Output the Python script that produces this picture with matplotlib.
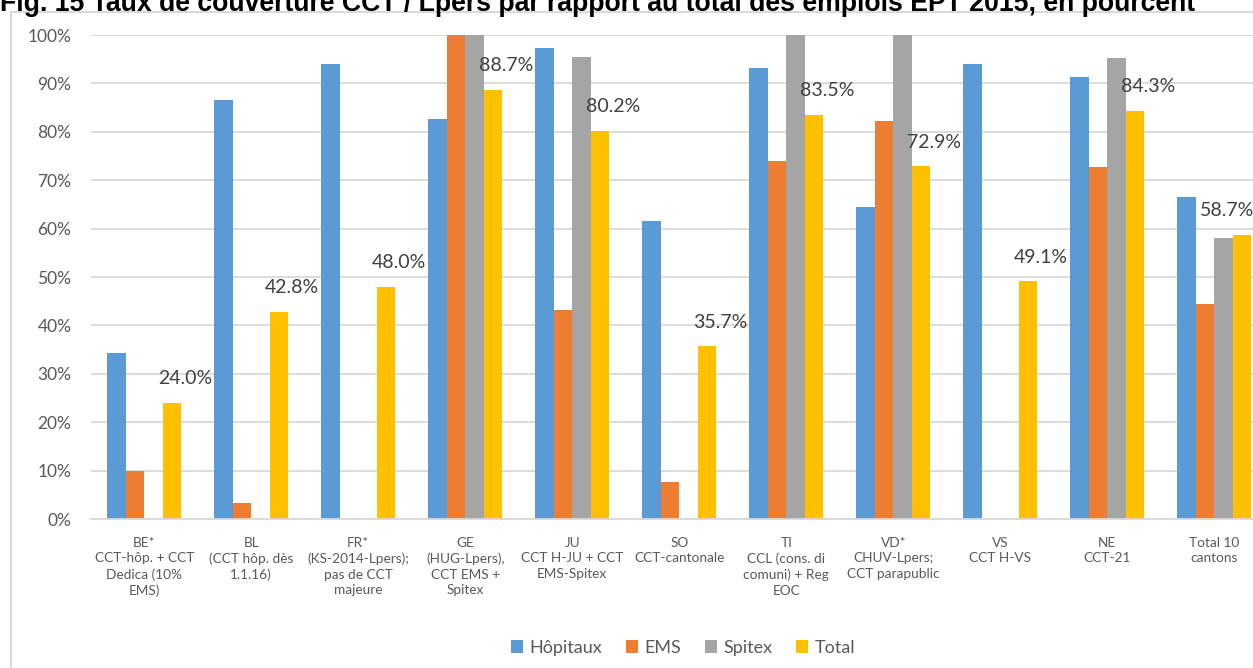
import numpy as np
import matplotlib.pyplot as plt
from matplotlib.patches import Rectangle

nan = np.nan

# Categories (canton + convention)
categories = [
    'BE*\nCCT-hôp. + CCT\nDedica (10%\nEMS)',
    'BL\n(CCT hôp. dès\n1.1.16)',
    'FR*\n(KS-2014-Lpers);\npas de CCT\nmajeure',
    'GE\n(HUG-Lpers),\nCCT EMS +\nSpitex',
    'JU\nCCT H-JU + CCT\nEMS-Spitex',
    'SO\nCCT-cantonale',
    'TI\nCCL (cons. di\ncomuni) + Reg\nEOC',
    'VD*\nCHUV-Lpers;\nCCT parapublic',
    'VS\nCCT H-VS',
    'NE\nCCT-21',
    'Total 10\ncantons',
]

# Values in percent
hopitaux = [34.4, 86.6, 94.0, 82.6, 97.3, 61.6, 93.2, 64.5, 94.0, 91.3, 66.5]
ems = [9.9, 3.4, nan, 100.0, 43.2, 7.6, 74.0, 82.2, nan, 72.8, 44.4]
spitex = [nan, nan, nan, 100.0, 95.4, nan, 100.0, 100.0, nan, 95.3, 58.1]
total = [24.0, 42.8, 48.0, 88.7, 80.2, 35.7, 83.5, 72.9, 49.1, 84.3, 58.7]

series_names = ['Hôpitaux', 'EMS', 'Spitex', 'Total']
colors = ['#5B9BD5', '#ED7D31', '#A5A5A5', '#FFC000']

title = 'Fig. 15 Taux de couverture CCT / Lpers par rapport au total des emplois EPT 2015, en pourcent'

W, H = 1253, 668
fig = plt.figure(figsize=(W / 100, H / 100), dpi=100)

# axes: 0% at y=519px, 100% at y=35px, categories 107px wide starting at x=90.8px
ax = fig.add_axes([90.8 / W, 1 - 519 / H, 11 * 107 / W, (519 - 35) / H])

x = np.arange(len(categories))
bw = 0.173
for k, (name, vals) in enumerate(zip(series_names, [hopitaux, ems, spitex, total])):
    ax.bar(x + (k - 1.5) * bw, vals, width=bw, color=colors[k], label=name, zorder=2)

# data labels on the Total series (last one pushed left, as in the cropped original)
for i, v in enumerate(total):
    dx = 9.4 if i < len(total) - 1 else -11
    ax.annotate(f'{v:.1f}%', (x[i] + 1.5 * bw, v), xytext=(dx, 17.3),
                textcoords='offset points', ha='center', va='center',
                fontsize=14, color='#404040', family='Lato', zorder=5,
                annotation_clip=False)

ax.set_xlim(-0.5, len(categories) - 0.5)
ax.set_ylim(0, 100)
ax.set_yticks(np.arange(0, 101, 10))
ax.set_yticklabels([f'{t}%' for t in range(0, 101, 10)], family='Lato',
                   fontsize=12.5, color='#595959')
ax.set_xticks(x)
ax.set_xticklabels(categories, family='Lato', fontsize=9.8, color='#595959',
                   linespacing=1.34)
ax.tick_params(axis='y', length=0, pad=14)
ax.tick_params(axis='x', length=0, pad=13)
ax.grid(axis='y', color='#d9d9d9', linewidth=1.3, zorder=0)
ax.set_axisbelow(True)
for s in ['top', 'right', 'left']:
    ax.spines[s].set_visible(False)
ax.spines['bottom'].set_color('#d9d9d9')
ax.spines['bottom'].set_linewidth(1.3)

# legend at bottom
leg = fig.legend(loc='center', bbox_to_anchor=(683 / W, 1 - 648 / H), ncol=4,
                 frameon=False, prop={'family': 'Lato', 'size': 13},
                 handlelength=0.68, handleheight=0.68, handletextpad=0.35,
                 columnspacing=1.3)
for t in leg.get_texts():
    t.set_color('#595959')

# chart frame (cropped on the right and bottom)
fig.add_artist(Rectangle((11 / W, -0.1), 2, 1 - 12.5 / H + 0.1, transform=fig.transFigure,
                         fill=False, edgecolor='#d9d9d9', linewidth=1.5))

fig.text(0, 1 - 11 / H, title, fontsize=19.2, fontweight='bold',
         family='Liberation Sans', va='baseline', ha='left', color='black')

fig.savefig('out.png', dpi=100)
